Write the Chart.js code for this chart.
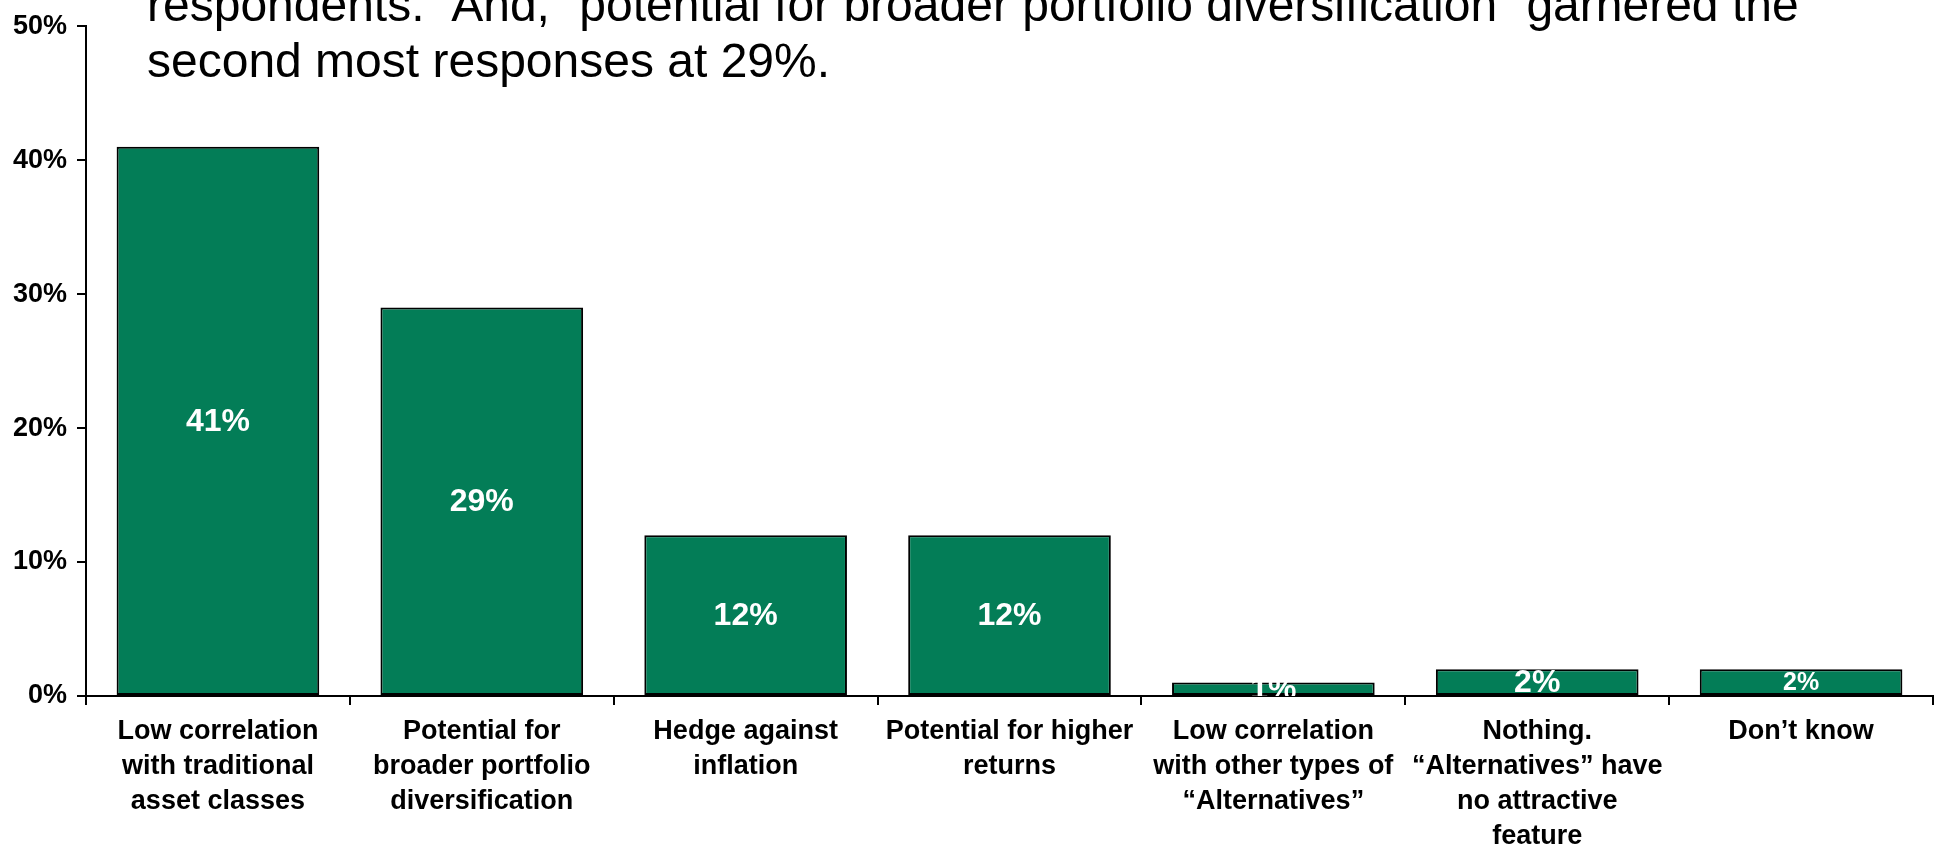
<!DOCTYPE html>
<html>
<head>
<meta charset="utf-8">
<script src="https://cdn.jsdelivr.net/npm/chart.js@4/dist/chart.umd.min.js"></script>
<style>
  html, body { margin: 0; padding: 0; background: #ffffff; overflow: hidden; }
  #c { display: block; }
</style>
</head>
<body>
<canvas id="c" width="1937" height="845"></canvas>
<script>
const categories = [
  ["Low correlation", "with traditional", "asset classes"],
  ["Potential for", "broader portfolio", "diversification"],
  ["Hedge against", "inflation"],
  ["Potential for higher", "returns"],
  ["Low correlation", "with other types of", "\u201CAlternatives\u201D"],
  ["Nothing.", "\u201CAlternatives\u201D have", "no attractive", "feature"],
  ["Don\u2019t know"]
];
const values = [41, 29, 12, 12, 1, 2, 2];
const valueLabels = ["41%", "29%", "12%", "12%", "1%", "2%", "2%"];
const yTickValues = [0, 10, 20, 30, 40, 50];
const titleLines = [
  "respondents.  And, \u201Cpotential for broader portfolio diversification\u201D garnered the",
  "second most responses at 29%."
];

const FONT = '"Liberation Sans", Arial, sans-serif';

const valueLabelPlugin = {
  id: 'valueLabels',
  afterDatasetsDraw(chart) {
    const ctx = chart.ctx;
    const area = chart.chartArea;
    const meta = chart.getDatasetMeta(0);
    ctx.save();
    ctx.beginPath();
    ctx.rect(area.left, area.top, area.right - area.left, area.bottom - area.top);
    ctx.clip();
    ctx.fillStyle = '#ffffff';
    ctx.textAlign = 'center';
    ctx.textBaseline = 'middle';
    meta.data.forEach((bar, i) => {
      const size = i === 6 ? 25 : 32;
      ctx.font = 'bold ' + size + 'px ' + FONT;
      const y = (bar.y + bar.base) / 2;
      ctx.fillText(valueLabels[i], bar.x, y + 1);
    });
    ctx.restore();
  }
};

const titlePlugin = {
  id: 'overlayTitle',
  afterDraw(chart) {
    const ctx = chart.ctx;
    ctx.save();
    ctx.fillStyle = '#000000';
    ctx.font = '48px ' + FONT;
    ctx.textAlign = 'left';
    ctx.textBaseline = 'alphabetic';
    ctx.fillText(titleLines[0], 147, 21);
    ctx.fillText(titleLines[1], 147, 77);
    ctx.restore();
  }
};

new Chart(document.getElementById('c'), {
  type: 'bar',
  data: {
    labels: categories,
    datasets: [{
      data: values,
      backgroundColor: '#037d57',
      borderColor: '#000000',
      borderWidth: 2,
      borderSkipped: false,
      barPercentage: 0.768,
      categoryPercentage: 1.0
    }]
  },
  options: {
    responsive: false,
    devicePixelRatio: 1,
    animation: false,
    layout: { padding: { top: 22, right: 4, left: 0, bottom: 0 } },
    plugins: {
      legend: { display: false },
      tooltip: { enabled: false },
      title: { display: false }
    },
    scales: {
      x: {
        offset: true,
        grid: {
          display: true,
          offset: true,
          drawOnChartArea: false,
          drawTicks: true,
          tickLength: 9,
          color: '#000000',
          lineWidth: 2
        },
        border: { display: true, color: '#000000', width: 2 },
        ticks: {
          color: '#000000',
          font: { family: FONT, size: 27, weight: 'bold', lineHeight: 1.3 },
          padding: 9,
          maxRotation: 0,
          minRotation: 0,
          autoSkip: false
        },
        afterFit(scale) { scale.height = 149; }
      },
      y: {
        min: 0,
        max: 50,
        afterBuildTicks(scale) { scale.ticks = yTickValues.map(v => ({ value: v })); },
        grid: {
          display: true,
          drawOnChartArea: false,
          drawTicks: true,
          tickLength: 9,
          color: '#000000',
          lineWidth: 2
        },
        border: { display: true, color: '#000000', width: 2 },
        ticks: {
          color: '#000000',
          font: { family: FONT, size: 27, weight: 'bold' },
          padding: 10,
          callback: (v) => v + '%'
        },
        afterFit(scale) { scale.width = 86; }
      }
    }
  },
  plugins: [valueLabelPlugin, titlePlugin]
});
</script>
</body>
</html>
